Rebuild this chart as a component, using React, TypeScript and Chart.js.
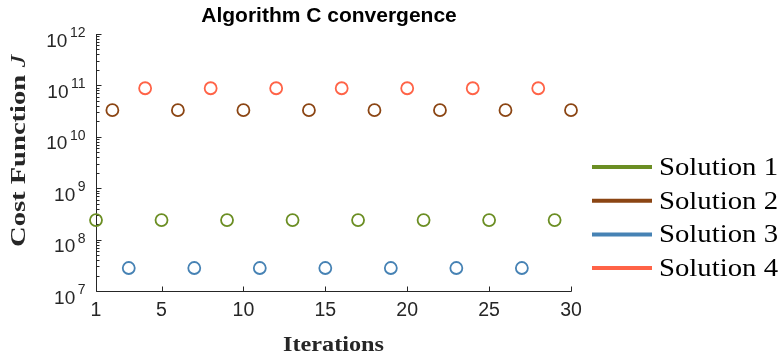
import { useEffect, useRef } from "react";
import { Chart, registerables } from "chart.js";

Chart.register(...registerables);

// Text
const TITLE = "Algorithm C convergence";
const X_LABEL = "Iterations";
const Y_LABEL_MAIN = "Cost Function ";
const Y_LABEL_SYMBOL = "J";

// Axis ticks
const X_TICKS = [1, 5, 10, 15, 20, 25, 30];
const Y_EXPONENTS = [7, 8, 9, 10, 11, 12];

// Series
const SERIES_NAMES = ["Solution 1", "Solution 2", "Solution 3", "Solution 4"];
const SERIES_COLORS = ["#6b8e23", "#8b4513", "#4682b4", "#ff6347"];

const ITER_1 = [1, 5, 9, 13, 17, 21, 25, 29];
const COST_1 = [2.4e8, 2.4e8, 2.4e8, 2.4e8, 2.4e8, 2.4e8, 2.4e8, 2.4e8];

const ITER_2 = [2, 6, 10, 14, 18, 22, 26, 30];
const COST_2 = [3.3e10, 3.3e10, 3.3e10, 3.3e10, 3.3e10, 3.3e10, 3.3e10, 3.3e10];

const ITER_3 = [3, 7, 11, 15, 19, 23, 27];
const COST_3 = [2.8e7, 2.8e7, 2.8e7, 2.8e7, 2.8e7, 2.8e7, 2.8e7];

const ITER_4 = [4, 8, 12, 16, 20, 24, 28];
const COST_4 = [8.8e10, 8.8e10, 8.8e10, 8.8e10, 8.8e10, 8.8e10, 8.8e10];

const ITERS = [ITER_1, ITER_2, ITER_3, ITER_4];
const COSTS = [COST_1, COST_2, COST_3, COST_4];

const AXIS_COLOR = "#262626";
const SANS = "'Liberation Sans', Arial, Helvetica, sans-serif";
const SERIF = "'Liberation Serif', 'Times New Roman', serif";

// Draws text horizontally stretched to a given width, centred on (x, y)
function drawFitted(ctx: CanvasRenderingContext2D, text: string, x: number, y: number, width: number) {
  const w = ctx.measureText(text).width;
  ctx.save();
  ctx.translate(x, y);
  ctx.scale(width / w, 1);
  ctx.textAlign = "center";
  ctx.fillText(text, 0, 0);
  ctx.restore();
}

const axesPlugin = {
  id: "axesDecor",
  beforeDatasetsDraw(chart: any) {
    const { ctx, chartArea, scales } = chart;
    const xs = scales.x;
    const ys = scales.y;
    const left = Math.round(chartArea.left) + 0.5;
    const bottom = Math.round(chartArea.bottom) + 0.5;
    ctx.save();
    ctx.strokeStyle = AXIS_COLOR;
    ctx.lineWidth = 1;
    ctx.beginPath();
    ctx.moveTo(left, chartArea.top);
    ctx.lineTo(left, bottom);
    ctx.lineTo(chartArea.right + 0.5, bottom);
    ctx.stroke();

    // x ticks (inward)
    ctx.beginPath();
    for (const t of X_TICKS) {
      const px = Math.round(xs.getPixelForValue(t)) + 0.5;
      ctx.moveTo(px, bottom);
      ctx.lineTo(px, bottom - 5);
    }
    // y ticks: major at decades, minor at 2..9
    for (const e of Y_EXPONENTS) {
      const py = Math.round(ys.getPixelForValue(Math.pow(10, e))) + 0.5;
      ctx.moveTo(left, py);
      ctx.lineTo(left + 5, py);
      if (e < Y_EXPONENTS[Y_EXPONENTS.length - 1]) {
        for (let m = 2; m <= 9; m++) {
          const pm = Math.round(ys.getPixelForValue(m * Math.pow(10, e))) + 0.5;
          ctx.moveTo(left, pm);
          ctx.lineTo(left + 3, pm);
        }
      }
    }
    ctx.stroke();

    // x tick labels
    ctx.fillStyle = AXIS_COLOR;
    ctx.font = `19.5px ${SANS}`;
    ctx.textAlign = "center";
    ctx.textBaseline = "middle";
    for (const t of X_TICKS) {
      ctx.fillText(String(t), xs.getPixelForValue(t), bottom + 19);
    }

    // y tick labels as 10 with a raised exponent
    for (const e of Y_EXPONENTS) {
      const py = ys.getPixelForValue(Math.pow(10, e));
      const expText = String(e);
      ctx.font = `14px ${SANS}`;
      const expW = ctx.measureText(expText).width;
      const right = left - 11;
      ctx.textAlign = "left";
      ctx.textBaseline = "alphabetic";
      ctx.fillText(expText, right - expW, py + 3);
      ctx.font = `19px ${SANS}`;
      ctx.textAlign = "right";
      ctx.fillText("10", right - expW - 2.5, py + 12.5);
    }
    ctx.restore();
  },
  afterDraw(chart: any) {
    const { ctx, chartArea } = chart;
    ctx.save();
    ctx.fillStyle = "#000000";
    ctx.textBaseline = "middle";

    // title
    ctx.font = `bold 21px ${SANS}`;
    ctx.textAlign = "center";
    ctx.fillText(TITLE, 329, 16);

    // x axis title
    ctx.fillStyle = "#262626";
    ctx.font = `bold 22px ${SERIF}`;
    drawFitted(ctx, X_LABEL, (chartArea.left + chartArea.right) / 2, 345, 101);

    // y axis title, rotated
    ctx.save();
    ctx.translate(19, 151);
    ctx.rotate(-Math.PI / 2);
    ctx.font = `bold 22px ${SERIF}`;
    const wMain = ctx.measureText(Y_LABEL_MAIN).width;
    ctx.font = `italic 22px ${SERIF}`;
    const wSym = ctx.measureText(Y_LABEL_SYMBOL).width;
    const total = wMain + wSym;
    const k = 192 / total;
    ctx.scale(k, 1);
    ctx.textAlign = "left";
    ctx.font = `bold 22px ${SERIF}`;
    ctx.fillText(Y_LABEL_MAIN, -total / 2, 0);
    ctx.font = `italic 22px ${SERIF}`;
    ctx.fillText(Y_LABEL_SYMBOL, -total / 2 + wMain, 0);
    ctx.restore();

    // legend
    const legendTop = 167;
    const legendStep = 33.7;
    ctx.font = `26px ${SERIF}`;
    ctx.fillStyle = "#000000";
    SERIES_NAMES.forEach((name, i) => {
      const y = legendTop + i * legendStep;
      ctx.strokeStyle = SERIES_COLORS[i];
      ctx.lineWidth = 4;
      ctx.beginPath();
      ctx.moveTo(592, y);
      ctx.lineTo(652, y);
      ctx.stroke();
      const w = ctx.measureText(name).width;
      ctx.save();
      ctx.translate(659, y + 1);
      ctx.scale(119 / w, 1);
      ctx.textAlign = "left";
      ctx.fillText(name, 0, 0);
      ctx.restore();
    });
    ctx.restore();
  },
};

export default function App() {
  const canvasRef = useRef<HTMLCanvasElement | null>(null);

  useEffect(() => {
    const canvas = canvasRef.current;
    if (!canvas) return;
    const chart = new Chart(canvas, {
      type: "scatter",
      data: {
        datasets: SERIES_NAMES.map((name, i) => ({
          label: name,
          data: ITERS[i].map((x, j) => ({ x, y: COSTS[i][j] })),
          borderColor: SERIES_COLORS[i],
          backgroundColor: "rgba(0,0,0,0)",
          pointStyle: "circle",
          pointRadius: 6,
          pointBorderWidth: 1.8,
          showLine: false,
          clip: false,
        })),
      },
      options: {
        responsive: false,
        animation: false,
        events: [],
        layout: { padding: { left: 96, right: 211, top: 34, bottom: 67 } },
        scales: {
          x: { type: "linear", min: 1, max: 30, display: false },
          y: { type: "logarithmic", min: 1e7, max: 1e12, display: false },
        },
        plugins: {
          legend: { display: false },
          title: { display: false },
          tooltip: { enabled: false },
        },
      },
      plugins: [axesPlugin],
    });
    return () => chart.destroy();
  }, []);

  return (
    <div style={{ position: "absolute", left: 0, top: 0, width: 782, height: 358, background: "#ffffff" }}>
      <canvas ref={canvasRef} width={782} height={358} style={{ display: "block" }} />
    </div>
  );
}
